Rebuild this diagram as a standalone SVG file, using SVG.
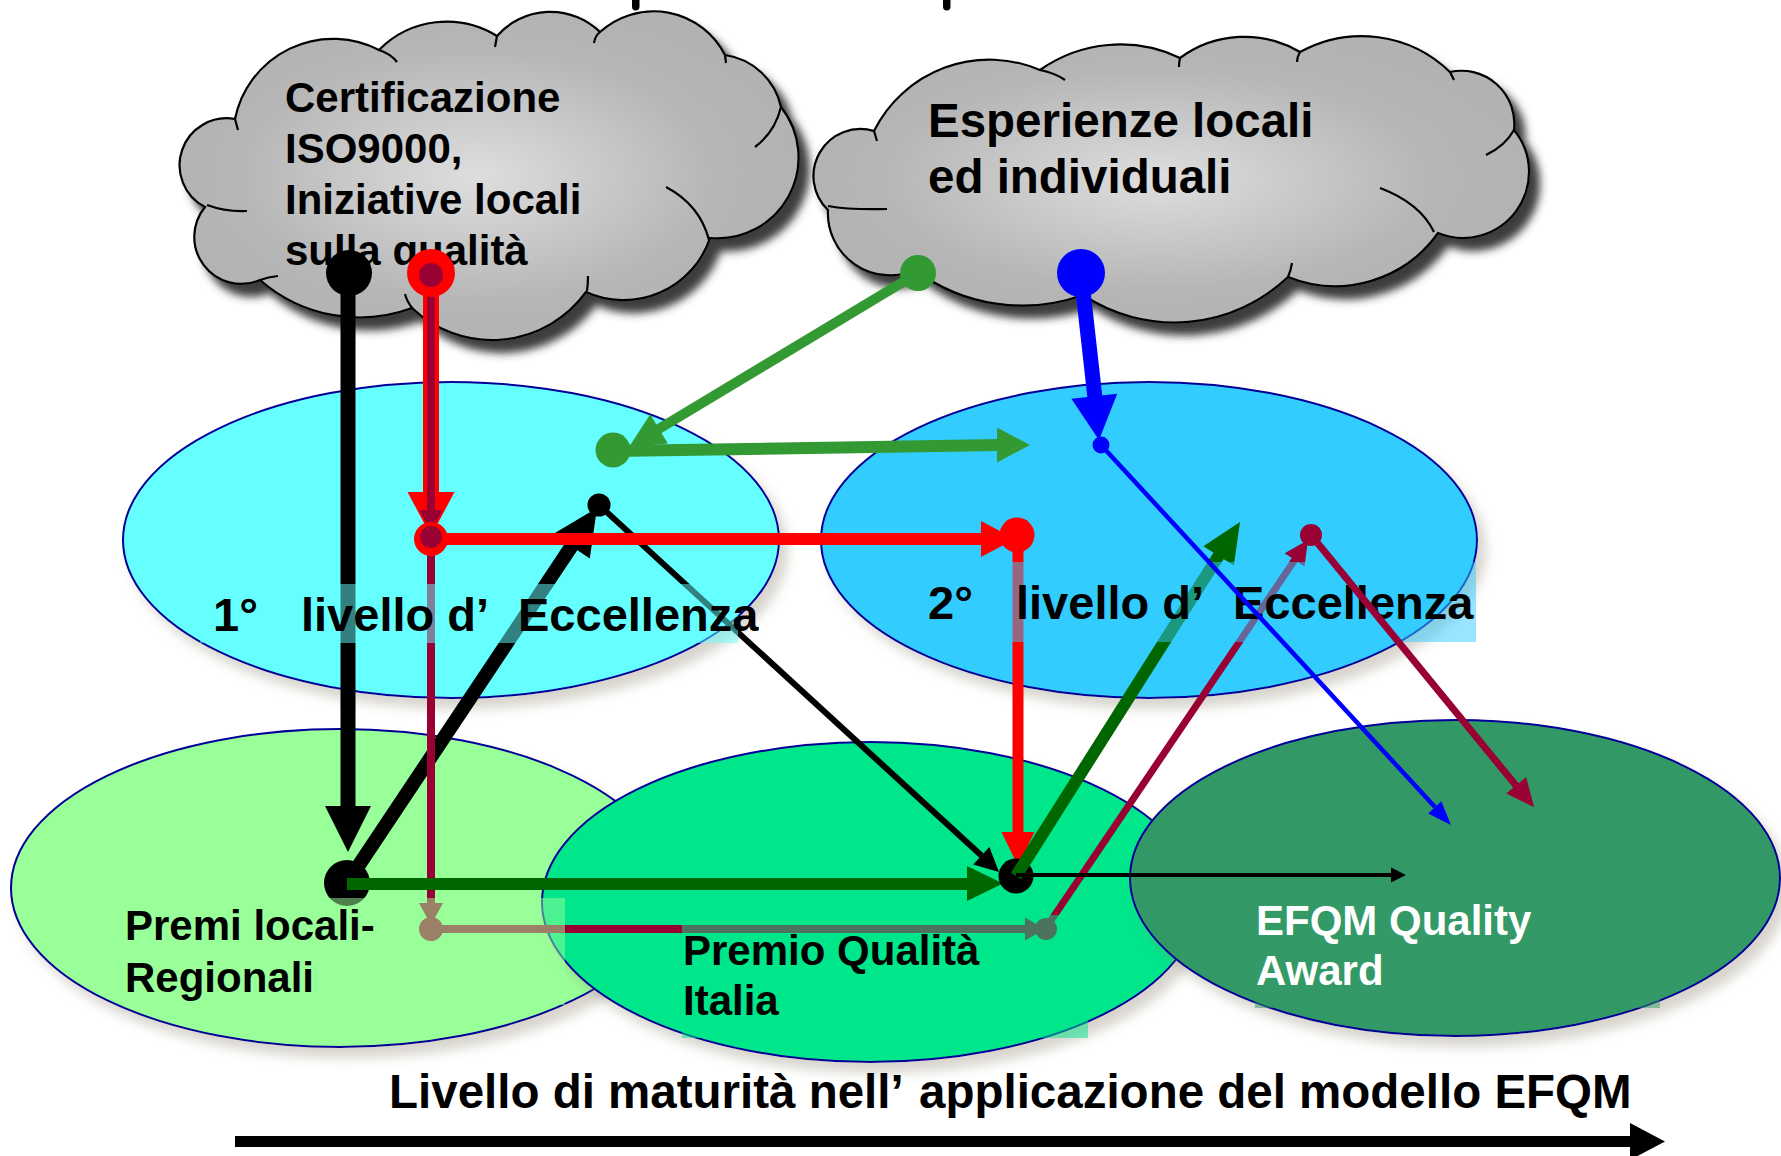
<svg xmlns="http://www.w3.org/2000/svg" width="1781" height="1156" viewBox="0 0 1781 1156">
<defs>
  <radialGradient id="cloudGrad" cx="0.48" cy="0.5" r="0.55">
    <stop offset="0" stop-color="#dedede"/>
    <stop offset="0.7" stop-color="#b6b6b6"/>
    <stop offset="1" stop-color="#b2b2b2"/>
  </radialGradient>
  <filter id="cloudShadow" x="-10%" y="-10%" width="130%" height="140%">
    <feGaussianBlur in="SourceAlpha" stdDeviation="4"/>
    <feOffset dx="10" dy="12" result="b"/>
    <feFlood flood-color="#333333" flood-opacity="0.95"/>
    <feComposite in2="b" operator="in"/>
    <feMerge><feMergeNode/><feMergeNode in="SourceGraphic"/></feMerge>
  </filter>
  <filter id="ellShadow" x="-10%" y="-10%" width="130%" height="140%">
    <feGaussianBlur in="SourceAlpha" stdDeviation="6"/>
    <feOffset dx="8" dy="10" result="b"/>
    <feFlood flood-color="#8c8670" flood-opacity="0.35"/>
    <feComposite in2="b" operator="in"/>
    <feMerge><feMergeNode/><feMergeNode in="SourceGraphic"/></feMerge>
  </filter>
</defs>
<style>
  .t{font-family:"Liberation Sans",Arial,sans-serif;font-weight:bold}
  .cloud{fill:url(#cloudGrad);stroke:#000;stroke-width:2.2;filter:url(#cloudShadow)}
  .crease{fill:none;stroke:#000;stroke-width:2.2}
  .ell{stroke:#000099;stroke-width:2;filter:url(#ellShadow)}
  .box{opacity:0.5}
  .k{stroke:#000000;fill:none}
  .r{stroke:#ff0000;fill:none}
  .dr{stroke:#990033;fill:none}
  .g{stroke:#339933;fill:none}
  .dg{stroke:#006600;fill:none}
  .b{stroke:#0000ff;fill:none}
</style>
<rect width="1781" height="1156" fill="#ffffff"/>

<!-- title fragments cut at top -->
<g id="title-fragments" fill="#000">
  <rect x="632" y="-6" width="7.5" height="16.5" rx="3.7"/>
  <rect x="943" y="-6" width="7.5" height="16.5" rx="3.7"/>
</g>

<!-- Cloud 1 -->
<g id="cloud-certificazione">
  <path class="cloud" d="M235,119 A100,100 0 0 1 379,50 A95,95 0 0 1 497,36 A71,71 0 0 1 600,32 A80,80 0 0 1 725,55 A67,67 0 0 1 781,107 A81,81 0 0 1 710,238 A91,91 0 0 1 586,292 A116,116 0 0 1 412,308 A151,151 0 0 1 260,280 A47,47 0 0 1 205,207 A47,47 0 0 1 235,119 Z"/>
  <path class="crease" d="M235,119 l3,11 M207,205 Q226,212 247,211 M260,280 Q268,277 278,276 M405,294 Q407,302 413,309 M587,291 Q588,284 588,276 M709,240 Q700,205 666,187 M781,107 Q775,132 755,147 M725,55 L726,63 M600,32 Q595,36 594,43 M497,36 L495,47 M379,50 Q391,54 397,62"/>
  <text class="t" font-size="42" fill="#000"><tspan x="285" y="112">Certificazione</tspan><tspan x="285" y="163">ISO9000,</tspan><tspan x="285" y="214">Iniziative locali</tspan><tspan x="285" y="265">sulla qualità</tspan></text>
</g>

<!-- Cloud 2 -->
<g id="cloud-esperienze">
  <path class="cloud" d="M874,131 A129,129 0 0 1 1040,70 A139,139 0 0 1 1180,58 A109,109 0 0 1 1300,52 A127,127 0 0 1 1450,72 A53,53 0 0 1 1514,130 A66,66 0 0 1 1438,233 A126,126 0 0 1 1288,277 A165,165 0 0 1 1083,295 A179,179 0 0 1 915,270 A62,62 0 0 1 828,210 A47,47 0 0 1 874,131 Z"/>
  <path class="crease" d="M874,131 l3,10 M828,206 Q850,210 887,209 M1288,277 Q1291,270 1292,263 M1434,232 Q1420,203 1380,188 M1514,130 Q1505,146 1486,155 M1450,72 L1454,80 M1300,52 Q1297,57 1297,62 M1180,58 Q1179,63 1179,67 M1040,70 Q1055,73 1065,80"/>
  <text class="t" font-size="47.5" fill="#000"><tspan x="928" y="137">Esperienze locali</tspan><tspan x="928" y="193">ed individuali</tspan></text>
</g>

<!-- Ellipse nodes -->
<g id="node-livello1"><ellipse class="ell" cx="451" cy="540" rx="328" ry="158" fill="#66ffff"/></g>
<g id="node-livello2"><ellipse class="ell" cx="1149" cy="540" rx="328" ry="158" fill="#33ccff"/></g>
<g id="node-premi-locali"><ellipse class="ell" cx="340" cy="888" rx="329" ry="159" fill="#99ff99" stroke="#000"/></g>
<g id="node-premio-italia"><ellipse class="ell" cx="870" cy="902" rx="328" ry="160" fill="#00e68a"/></g>
<g id="node-efqm"><ellipse class="ell" cx="1455" cy="878" rx="325" ry="158" fill="#339966"/></g>

<!-- Connectors -->
<g id="connectors">
  <!-- black thick vertical: cloud1 -> premi locali -->
  <line class="k" x1="348" y1="273" x2="348" y2="810" stroke-width="15"/>
  <polygon points="325,806 371,806 348,852" fill="#000"/>
  <circle cx="349" cy="273" r="23" fill="#000"/>
  <!-- black thick diagonal: premi locali -> 1 livello -->
  <line class="k" x1="347" y1="883" x2="575" y2="541" stroke-width="14"/>
  <polygon points="597,508 589.8,558.5 553.2,534.1" fill="#000"/>
  <!-- black thin diagonal: 1 livello -> premio italia -->
  <line class="k" x1="599" y1="505" x2="983" y2="857" stroke-width="6"/>
  <polygon points="999,872 973.2,864.6 989.4,847" fill="#000"/>
  <circle cx="599" cy="505" r="11.5" fill="#000"/>
  <!-- red vertical cloud1 -> 1 livello -->
  <line class="r" x1="431" y1="273" x2="431" y2="496" stroke-width="16"/>
  <polygon points="407.5,492 454.5,492 431,536" fill="#ff0000"/>
  <line class="dr" x1="431" y1="273" x2="431" y2="512" stroke-width="8"/>
  <polygon points="419.5,510 442.5,510 431,532" fill="#990033"/>
  <circle cx="431" cy="273" r="24" fill="#ff0000"/>
  <circle cx="431" cy="275" r="12" fill="#990033"/>
  <!-- red horizontal 1 -> 2 livello -->
  <line class="r" x1="431" y1="539" x2="985" y2="539" stroke-width="12"/>
  <polygon points="981,521 981,557 1015,539" fill="#ff0000"/>
  <!-- dark red vertical 1 livello -> premi locali -->
  <line class="dr" x1="431" y1="537" x2="431" y2="906" stroke-width="8"/>
  <polygon points="419,903 443,903 431,925" fill="#990033"/>
  <circle cx="431" cy="539" r="17" fill="#ff0000"/>
  <circle cx="431" cy="537" r="11" fill="#990033"/>
  <circle cx="431" cy="929" r="12" fill="#990033"/>
  <!-- dark red horizontal premi locali -> premio italia -->
  <line class="dr" x1="431" y1="929" x2="1028" y2="929" stroke-width="8"/>
  <polygon points="1025,917.5 1025,940.5 1045,929" fill="#990033"/>
  <circle cx="1046" cy="929" r="11" fill="#990033"/>
  <!-- dark red diagonal premio italia -> 2 livello -->
  <line class="dr" x1="1050" y1="922" x2="1296" y2="558" stroke-width="7"/>
  <polygon points="1308,540 1304.5,566.6 1284.7,553.2" fill="#990033"/>
  <circle cx="1311" cy="535" r="11" fill="#990033"/>
  <!-- red vertical 2 livello -> premio italia -->
  <line class="r" x1="1018" y1="535" x2="1018" y2="836" stroke-width="11"/>
  <polygon points="1001.5,832 1034.5,832 1018,866" fill="#ff0000"/>
  <circle cx="1017" cy="535" r="17.5" fill="#ff0000"/>
  <!-- dots premi locali / premio italia -->
  <circle cx="347" cy="883" r="23" fill="#000"/>
  <!-- dark green horizontal premi locali -> premio italia -->
  <line class="dg" x1="347" y1="884" x2="970" y2="884" stroke-width="12"/>
  <polygon points="967,866 967,901 1003,883.5" fill="#006600"/>
  <circle cx="1016" cy="876" r="17.5" fill="#000"/>
  <!-- dark green diagonal premio italia -> 2 livello -->
  <line class="dg" x1="1016" y1="876" x2="1221" y2="552" stroke-width="12"/>
  <polygon points="1240,522 1233.8,565.4 1203.4,546.2" fill="#006600"/>
  <!-- black thin horizontal premio italia -> EFQM -->
  <line class="k" x1="1016" y1="875" x2="1393" y2="875" stroke-width="4"/>
  <polygon points="1391,867.5 1391,882.5 1406,875" fill="#000"/>
  <!-- green: cloud2 -> 1 livello -> 2 livello -->
  <line class="g" x1="918" y1="273" x2="657" y2="430" stroke-width="10"/>
  <polygon points="629,447 667.8,443.5 650.2,414.3" fill="#339933"/>
  <circle cx="918" cy="273" r="18" fill="#339933"/>
  <line class="g" x1="613" y1="451" x2="1000" y2="445" stroke-width="12"/>
  <polygon points="997,427.5 997,462.5 1030,445" fill="#339933"/>
  <circle cx="613" cy="450" r="17.5" fill="#339933"/>
  <!-- blue thick cloud2 -> 2 livello -->
  <line class="b" x1="1081" y1="273" x2="1095" y2="398" stroke-width="15"/>
  <polygon points="1117.2,393.8 1071.4,398.8 1099,440" fill="#0000ff"/>
  <circle cx="1081" cy="273" r="24" fill="#0000ff"/>
  <circle cx="1101" cy="445" r="8.5" fill="#0000ff"/>
</g>

<!-- Ellipse labels (semi-transparent text boxes) -->
<g id="label-livello1">
  <rect class="box" x="200" y="584" width="538" height="59" fill="#66ffff"/>
  <text class="t" font-size="47" fill="#000" y="631"><tspan x="213">1°</tspan><tspan x="301">livello d’</tspan><tspan x="518">Eccellenza</tspan></text>
</g>
<g id="label-livello2">
  <rect class="box" x="900" y="562" width="576" height="80" fill="#33ccff"/>
  <text class="t" font-size="47" fill="#000" y="619"><tspan x="928">2°</tspan><tspan x="1016">livello d’</tspan><tspan x="1233">Eccellenza</tspan></text>
</g>
<g id="label-premi-locali">
  <rect class="box" x="120" y="898" width="445" height="107" fill="#99ff99"/>
  <text class="t" font-size="42" fill="#000"><tspan x="125" y="940">Premi locali-</tspan><tspan x="125" y="992">Regionali</tspan></text>
</g>
<g id="label-premio-italia">
  <rect class="box" x="682" y="915" width="406" height="123" fill="#00e68a"/>
  <text class="t" font-size="42" fill="#000"><tspan x="683" y="965">Premio Qualità</tspan><tspan x="683" y="1015">Italia</tspan></text>
</g>
<g id="label-efqm">
  <rect class="box" x="1255" y="900" width="405" height="108" fill="#339966"/>
  <text class="t" font-size="42" fill="#ffffff"><tspan x="1256" y="935">EFQM Quality</tspan><tspan x="1256" y="985">Award</tspan></text>
</g>

<g id="connectors-over-labels">
  <!-- blue thin 2 livello -> EFQM -->
  <line class="b" x1="1101" y1="445" x2="1435" y2="807" stroke-width="4.5"/>
  <polygon points="1451,825 1428.1,813.4 1441.3,801.2" fill="#0000ff"/>
  <!-- dark red 2 livello -> EFQM -->
  <line class="dr" x1="1311" y1="535" x2="1518" y2="788" stroke-width="7"/>
  <polygon points="1534,807 1506.2,793.6 1526.2,777.2" fill="#990033"/>
</g>

<!-- Axis -->
<g id="axis">
  <text class="t" font-size="47.5" fill="#000" y="1108"><tspan x="389">Livello di maturità nell’</tspan><tspan x="919">applicazione del modello EFQM</tspan></text>
  <line x1="235" y1="1141.5" x2="1632" y2="1141.5" stroke="#000" stroke-width="11"/>
  <polygon points="1630,1123 1665,1141.5 1630,1160" fill="#000"/>
</g>
</svg>
